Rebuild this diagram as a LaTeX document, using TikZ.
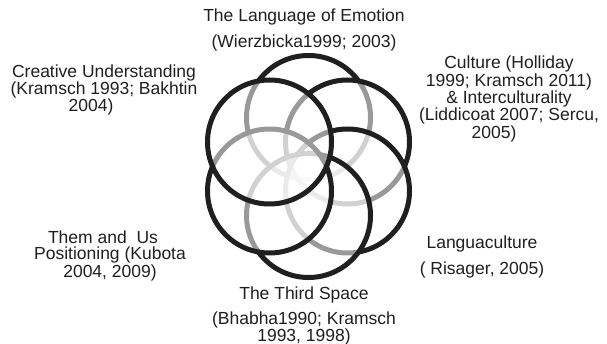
\documentclass[tikz,border=0pt]{standalone}
\usepackage{fontspec}
\setmainfont{Liberation Sans}
\begin{document}
\begin{tikzpicture}[x=1pt,y=-1pt,
  ring/.style={circle, minimum size=124pt, inner sep=0pt, line width=5pt, draw=black!88, fill=white, fill opacity=0.55, draw opacity=1},
  lbl/.style={align=center, text=black!88, font=\fontsize{17.5}{16}\selectfont, inner sep=0pt}]
\useasboundingbox (0,0) rectangle (607,344);
% rings, drawn in order so later translucent fills lighten earlier strokes
\node[ring] (cT)  at (308.5,117.5) {};
\node[ring] (cUR) at (347.5,142) {};
\node[ring] (cLR) at (347.5,191) {};
\node[ring] (cB)  at (308.5,215.5) {};
\node[ring] (cLL) at (269.5,191) {};
\node[ring] (cUL) at (269.5,142) {};
% labels
\node[lbl] (tTop) at (304,30) {The Language of Emotion\\[8pt](Wierzbicka1999; 2003)};
\node[lbl] (tUL) at (104,90) {Creative Understanding\\(Kramsch 1993; Bakhtin\\\hbox{2004)\kern26pt}};
\node[lbl] (tUR) at (509,99) {Culture (Holliday\\1999; Kramsch 2011)\\\& Interculturality\\(Liddicoat 2007; Sercu,\\\hbox{2005)\kern30pt}};
\node[lbl] (tLR) at (482,257) {Languaculture\\[8pt]( Risager, 2005)};
\node[lbl] (tLL) at (110,256) {\hbox{Them and\ \ Us\kern14pt}\\Positioning (Kubota\\2004, 2009)};
\node[lbl] (tB) at (304,316) {The Third Space\\[8pt](Bhabha1990; Kramsch\\1993, 1998)};
\end{tikzpicture}
\end{document}
